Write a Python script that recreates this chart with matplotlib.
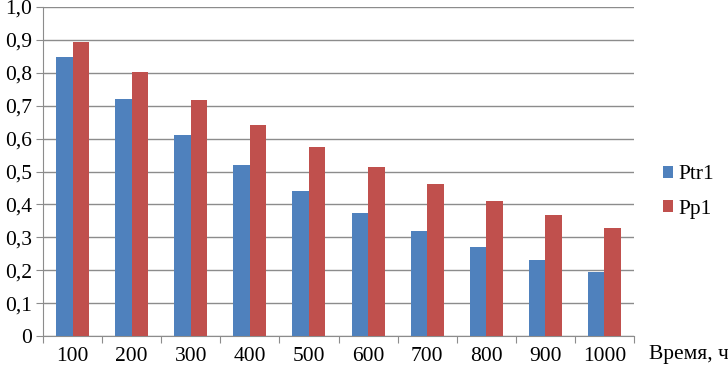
import matplotlib
matplotlib.use("Agg")
import matplotlib.pyplot as plt
import numpy as np

categories = ["100", "200", "300", "400", "500", "600", "700", "800", "900", "1000"]
ptr1 = [0.849, 0.721, 0.611, 0.520, 0.441, 0.375, 0.318, 0.270, 0.230, 0.195]
pp1 = [0.895, 0.801, 0.717, 0.641, 0.573, 0.515, 0.461, 0.410, 0.368, 0.328]
yticks = [0, 0.1, 0.2, 0.3, 0.4, 0.5, 0.6, 0.7, 0.8, 0.9, 1.0]
ytick_labels = ["0", "0,1", "0,2", "0,3", "0,4", "0,5", "0,6", "0,7", "0,8", "0,9", "1,0"]

plt.rcParams['font.family'] = ['Liberation Serif', 'DejaVu Serif']
FS = 15.5

fig = plt.figure(figsize=(7.28, 3.68), dpi=100)
ax = fig.add_axes([43/728, 32/368, (634-43)/728, (336-7)/368])

x = np.arange(len(categories))
w = 0.28
ax.bar(x - w/2, ptr1, width=w, color="#4F81BD", label="Ptr1", zorder=3)
ax.bar(x + w/2, pp1, width=w, color="#C0504D", label="Pp1", zorder=3)

ax.set_xlim(-0.5, len(categories) - 0.5)
ax.set_ylim(0, 1.0)
ax.set_yticks(yticks)
ax.set_yticklabels(ytick_labels, fontsize=FS)
ax.yaxis.grid(True, color="#8c8c8c", linewidth=1.0, zorder=0)
ax.set_axisbelow(True)

ax.set_xticks(np.arange(-0.5, len(categories)), minor=False)
ax.set_xticklabels([])
ax.set_xticks(x, minor=True)
ax.set_xticklabels(categories, minor=True, fontsize=FS)
ax.tick_params(axis='x', which='major', length=5, color="#8c8c8c", direction='out')
ax.tick_params(axis='x', which='minor', length=0, pad=8)
ax.tick_params(axis='y', length=5, color="#8c8c8c", direction='out', pad=3)

for s in ['top', 'right']:
    ax.spines[s].set_visible(False)
for s in ['left', 'bottom']:
    ax.spines[s].set_color("#8c8c8c")

handles, labels = ax.get_legend_handles_labels()
fig.legend(handles, labels, loc='center left', bbox_to_anchor=(663/728, 1 - 192/368),
           frameon=False, fontsize=FS, handlelength=0.45, handleheight=0.45,
           handletextpad=0.25, labelspacing=0.7, borderpad=0, borderaxespad=0)

fig.text(649/728, 1 - 354/368, "Время, ч", fontsize=FS, va='center', ha='left')

fig.savefig("out.png", dpi=100)
